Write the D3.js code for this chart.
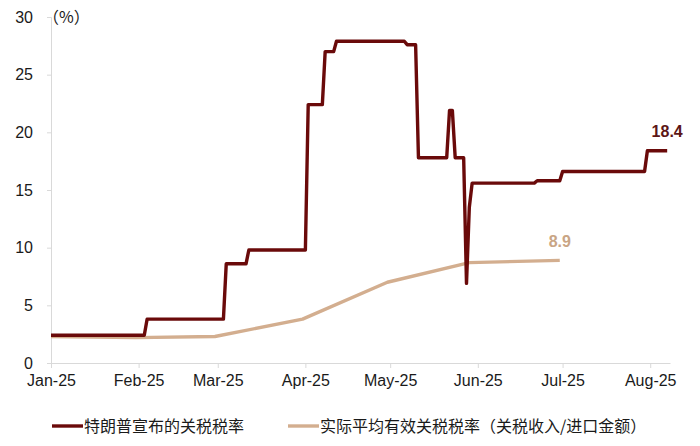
<!DOCTYPE html>
<html>
<head>
<meta charset="utf-8">
<script src="https://cdn.jsdelivr.net/npm/d3@7"></script>
<style>
    body { margin: 0; background: #ffffff; }
    svg { display: block; }
</style>
</head>
<body>
<div id="chart"></div>
<script>
/*
 * Announced vs effective US tariff rate, Jan-Aug 2025
 */

// Announced tariff rate (daily steps)
var announcedDates = ["2025-01-01", "2025-02-03", "2025-02-04", "2025-03-03", "2025-03-04",
    "2025-03-11", "2025-03-12", "2025-04-01", "2025-04-02", "2025-04-07", "2025-04-08",
    "2025-04-11", "2025-04-12", "2025-05-06", "2025-05-07", "2025-05-10", "2025-05-11",
    "2025-05-21", "2025-05-22", "2025-05-23", "2025-05-24", "2025-05-27", "2025-05-28",
    "2025-05-29", "2025-05-30", "2025-06-21", "2025-06-22", "2025-06-30", "2025-07-01",
    "2025-07-30", "2025-07-31", "2025-08-07"];
var announcedValues = [2.4, 2.4, 3.8, 3.8, 8.6,
    8.6, 9.8, 9.8, 22.4, 22.4, 27.0,
    27.0, 27.9, 27.9, 27.6, 27.6, 17.8,
    17.8, 21.9, 21.9, 17.8, 17.8, 6.9,
    13.5, 15.6, 15.6, 15.8, 15.8, 16.6,
    16.6, 18.4, 18.4];

// Effective rate (customs revenue / imports), monthly
var effectiveDates = ["2025-01-01", "2025-01-31", "2025-02-28", "2025-03-31",
    "2025-04-30", "2025-05-29", "2025-06-30"];
var effectiveValues = [2.3, 2.2, 2.3, 3.8, 7.0, 8.7, 8.9];

var tickMonths = ["2025-01-01", "2025-02-01", "2025-03-01", "2025-04-01",
    "2025-05-01", "2025-06-01", "2025-07-01", "2025-08-01"];
var tickLabels = ["Jan-25", "Feb-25", "Mar-25", "Apr-25", "May-25", "Jun-25", "Jul-25", "Aug-25"];
var yTicks = [0, 5, 10, 15, 20, 25, 30];

var seriesNames = ["特朗普宣布的关税税率", "实际平均有效关税税率（关税收入/进口金额）"];
var endLabels = ["18.4", "8.9"];

var colours = ["#6a0a0a", "#d3ae8f"];
var labelColours = ["#5c1616", "#c9a585"];

var width = 700, height = 446;
var margin = {top: 17, right: 30, bottom: 83, left: 51};

var parse = d3.utcParse("%Y-%m-%d");

var svg = d3.select("#chart").append("svg")
    .attr("width", width)
    .attr("height", height);

var x = d3.scaleUtc()
    .domain([parse("2025-01-01"), parse("2025-08-08")])
    .range([margin.left, width - margin.right]);

var y = d3.scaleLinear()
    .domain([0, 30])
    .range([height - margin.bottom, margin.top]);

var tickFont = "'Liberation Sans', Arial, sans-serif";
var cjkFont = "'Noto Sans CJK SC', sans-serif";

// y axis
var yAxis = svg.append("g")
    .attr("transform", "translate(" + margin.left + ",0)")
    .call(d3.axisLeft(y).tickValues(yTicks).tickSize(4).tickPadding(14));
yAxis.selectAll("line, path").attr("stroke", "#d9d9d9");
yAxis.selectAll("text")
    .attr("fill", "#1a1a1a")
    .style("font-family", tickFont)
    .style("font-size", "16px");

// x axis
var xAxis = svg.append("g")
    .attr("transform", "translate(0," + y(0) + ")")
    .call(d3.axisBottom(x)
        .tickValues(tickMonths.map(parse))
        .tickFormat(function(d, i) { return tickLabels[i]; })
        .tickSizeInner(5)
        .tickSizeOuter(0)
        .tickPadding(7));
xAxis.selectAll("line, path").attr("stroke", "#d9d9d9");
xAxis.selectAll("text")
    .attr("fill", "#1a1a1a")
    .style("font-family", tickFont)
    .style("font-size", "16px");

// unit label
svg.append("text")
    .attr("x", 43)
    .attr("y", 23)
    .attr("fill", "#1a1a1a")
    .style("font-family", cjkFont)
    .style("font-size", "16px")
    .text("（%）");

var line = d3.line()
    .x(function(d) { return x(d.date); })
    .y(function(d) { return y(d.value); });

function toPoints(dates, values) {
    return dates.map(function(d, i) { return {date: parse(d), value: values[i]}; });
}

var announced = toPoints(announcedDates, announcedValues);
var effective = toPoints(effectiveDates, effectiveValues);

// effective first, announced on top
svg.append("path")
    .datum(effective)
    .attr("d", line)
    .attr("fill", "none")
    .attr("stroke", colours[1])
    .attr("stroke-width", 3.4)
    .attr("stroke-linejoin", "round");

svg.append("path")
    .datum(announced)
    .attr("d", line)
    .attr("fill", "none")
    .attr("stroke", colours[0])
    .attr("stroke-width", 3.4)
    .attr("stroke-linejoin", "round");

// end labels
var lastA = announced[announced.length - 1];
var lastE = effective[effective.length - 1];

svg.append("text")
    .attr("x", x(lastA.date))
    .attr("y", y(lastA.value) - 14)
    .attr("text-anchor", "middle")
    .attr("fill", labelColours[0])
    .style("font-family", tickFont)
    .style("font-weight", "bold")
    .style("font-size", "16px")
    .text(endLabels[0]);

svg.append("text")
    .attr("x", x(lastE.date))
    .attr("y", y(lastE.value) - 13)
    .attr("text-anchor", "middle")
    .attr("fill", labelColours[1])
    .style("font-family", tickFont)
    .style("font-weight", "bold")
    .style("font-size", "16px")
    .text(endLabels[1]);

// legend
var legendX = [52, 288];
var legendY = 426;
var legend = svg.append("g");
seriesNames.forEach(function(name, i) {
    legend.append("line")
        .attr("x1", legendX[i])
        .attr("x2", legendX[i] + 31)
        .attr("y1", legendY)
        .attr("y2", legendY)
        .attr("stroke", colours[i])
        .attr("stroke-width", 3.4);
    legend.append("text")
        .attr("x", legendX[i] + 32)
        .attr("y", legendY + 6)
        .attr("fill", "#1a1a1a")
        .style("font-family", cjkFont)
        .style("font-size", "16px")
        .text(name);
});
</script>
</body>
</html>
